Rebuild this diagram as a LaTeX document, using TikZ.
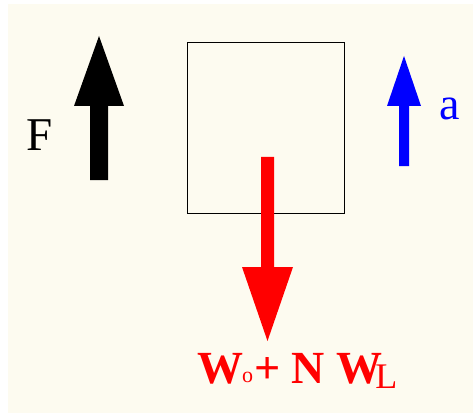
\documentclass[tikz,border=0pt]{standalone}
\usepackage{fontspec}
\setmainfont{Liberation Serif}
\definecolor{bgcream}{RGB}{253,251,240}
\tikzset{
  forcearrow/.style={fill=#1, draw=none},
  lbl/.style={inner sep=0pt, outer sep=0pt},
}
\begin{document}
\begin{tikzpicture}[x=1pt,y=-1pt]
\useasboundingbox (0,0) rectangle (473,414);
\fill[white] (0,0) rectangle (473,414);
\fill[bgcream] (8,4) rectangle (473,413);
% box
\node[draw=black, line width=1pt, minimum width=157pt, minimum height=170pt, inner sep=0pt] (box) at (265.5,128) {};
% F arrow (black)
\fill[forcearrow=black] (90,180) -- (90,106) -- (74,106) -- (99,36) -- (124,106) -- (108,106) -- (108,180) -- cycle;
\node[lbl, anchor=base] (F) at (40,150) {\fontsize{47}{47}\selectfont F};
% a arrow (blue)
\fill[forcearrow=blue] (399,166) -- (399,106) -- (387,106) -- (404,56) -- (421,106) -- (409,106) -- (409,166) -- cycle;
\node[lbl, anchor=base west, text=blue] (a) at (439,120) {\fontsize{46}{46}\selectfont a};
% weight arrow (red)
\fill[forcearrow=red] (261,157) -- (261,267) -- (242,267) -- (267.5,341) -- (293,267) -- (274,267) -- (274,157) -- cycle;
\node[lbl, anchor=base west, text=red] (W) at (197,383) {\fontsize{46}{46}\selectfont\bfseries W\kern-1pt\raisebox{1pt}{\fontsize{22}{22}\selectfont\mdseries o}\kern1pt+ N W\kern-7pt\raisebox{-5pt}{\fontsize{36}{36}\selectfont\mdseries L}};
\end{tikzpicture}
\end{document}
